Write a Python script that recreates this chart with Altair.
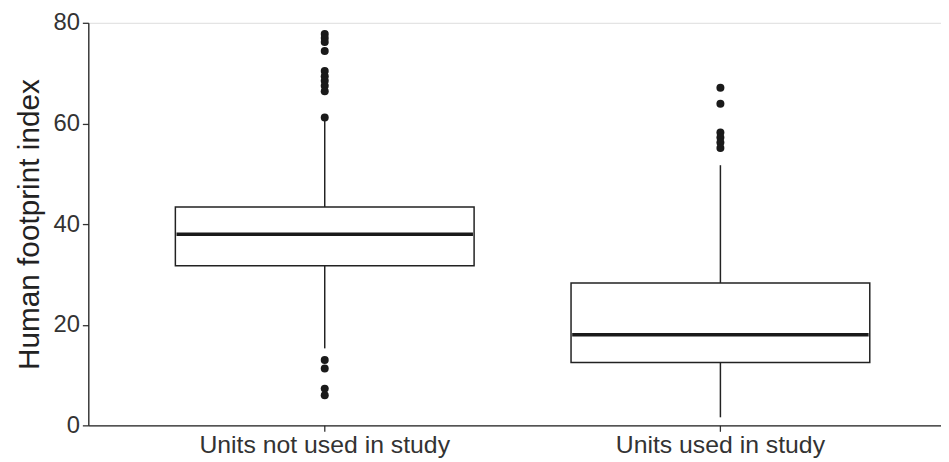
import altair as alt
import pandas as pd

groups = ["Units not used in study", "Units used in study"]
q1 = [31.7, 12.5]
median = [38.0, 18.0]
q3 = [43.4, 28.3]
whisker_low = [15.3, 1.6]
whisker_high = [60.6, 51.7]

outlier_group = (["Units not used in study"] * 14) + (["Units used in study"] * 6)
outlier_value = [77.8, 77.0, 76.2, 74.4, 70.4, 69.4, 68.5, 67.5, 66.4, 61.2,
                 13.0, 11.3, 7.3, 6.0,
                 67.1, 63.9, 58.2, 57.2, 56.2, 55.1]

box = pd.DataFrame({"group": groups, "q1": q1, "median": median, "q3": q3,
                    "lo": whisker_low, "hi": whisker_high})
out = pd.DataFrame({"group": outlier_group, "value": outlier_value})

FONT = "Liberation Sans"
xscale = alt.Scale(domain=groups, paddingInner=0.245, paddingOuter=0.2, align=0.55)
yscale = alt.Scale(domain=[0, 80], nice=False)

x = alt.X("group:N", scale=xscale, sort=groups,
          axis=alt.Axis(title=None, labelAngle=0, labelFontSize=25, labelColor="#333333",
                        labelFont=FONT, labelLimit=0, domainColor="#222222", domainWidth=1.3,
                        tickColor="#333333", tickSize=6, tickWidth=1.3, labelPadding=1))
yaxis = alt.Axis(title="Human footprint index", titleFontSize=30, titleFont=FONT,
                 titleFontWeight="normal", titleColor="#222222", titlePadding=9,
                 labelFontSize=24, labelColor="#333333", labelFont=FONT,
                 values=[0, 20, 40, 60, 80], grid=False,
                 domainColor="#222222", domainWidth=1.3, tickColor="#333333",
                 tickSize=6, tickWidth=1.3, labelPadding=3)

upper = alt.Chart(box).mark_rule(color="#222222", strokeWidth=1.5).encode(
    x=x, y=alt.Y("q3:Q", scale=yscale, axis=yaxis), y2="hi:Q")
lower = alt.Chart(box).mark_rule(color="#222222", strokeWidth=1.5).encode(
    x=x, y=alt.Y("lo:Q", scale=yscale, axis=yaxis), y2="q1:Q")
bars = alt.Chart(box).mark_bar(fill="white", stroke="#222222", strokeWidth=1.5).encode(
    x=x, y=alt.Y("q1:Q", scale=yscale, axis=yaxis), y2="q3:Q")
med = alt.Chart(box).mark_tick(color="#1a1a1a", opacity=1, thickness=3.5, size=299).encode(
    x=x, y=alt.Y("median:Q", scale=yscale, axis=yaxis))
pts = alt.Chart(out).mark_circle(color="#1a1a1a", opacity=1, size=65).encode(
    x=x, y=alt.Y("value:Q", scale=yscale, axis=yaxis))

chart = alt.layer(upper, lower, bars, med, pts).properties(
    width=860, height=406,
    padding={"top": 1, "left": 6, "right": 0, "bottom": 0}
).configure_view(strokeWidth=0).configure(background="white")

chart.save("out.html", embed_options={"renderer": "svg", "actions": False})
